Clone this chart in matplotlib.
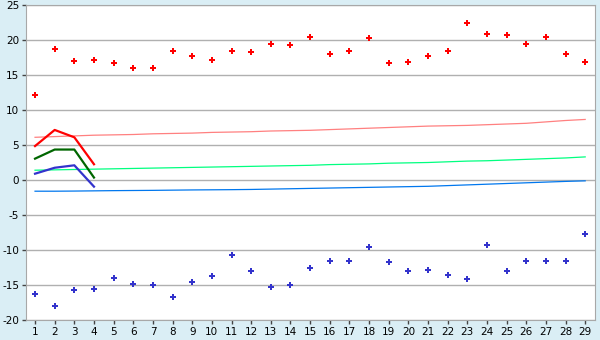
import matplotlib
matplotlib.use("Agg")
import matplotlib.pyplot as plt

plt.rcParams['axes.unicode_minus'] = False

days = list(range(1, 30))

# daily max / min (points)
tmax = [12.2, 18.7, 16.95, 17.1, 16.7, 15.95, 15.95, 18.4, 17.65, 17.1,
        18.5, 18.25, 19.4, 19.25, 20.4, 17.95, 18.4, 20.25, 16.7, 16.8,
        17.65, 18.5, 22.4, 20.8, 20.65, 19.4, 20.5, 17.95, 16.8]
tmin = [-16.3, -18.05, -15.75, -15.6, -14.05, -14.9, -15.05, -16.75, -14.6, -13.75,
        -10.75, -13.05, -15.3, -15.05, -12.6, -11.6, -11.6, -9.6, -11.75, -13.05,
        -12.9, -13.5, -14.2, -9.35, -13.05, -11.6, -11.6, -11.5, -7.75]

# first days: max / mean / min curves
days_line = [1, 2, 3, 4]
line_max = [4.85, 7.15, 6.1, 2.25]
line_avg = [3.05, 4.35, 4.35, 0.35]
line_min = [0.9, 1.75, 2.1, -0.95]

# normals
norm_max = [6.1, 6.2, 6.3, 6.4, 6.45, 6.5, 6.6, 6.65, 6.7, 6.8, 6.85, 6.9, 7.0, 7.05, 7.1,
            7.2, 7.3, 7.4, 7.5, 7.6, 7.7, 7.75, 7.8, 7.9, 8.0, 8.1, 8.3, 8.5, 8.65]
norm_avg = [1.4, 1.45, 1.5, 1.55, 1.6, 1.65, 1.7, 1.75, 1.8, 1.85, 1.9, 1.95, 2.0, 2.05, 2.1,
            2.2, 2.25, 2.3, 2.4, 2.45, 2.5, 2.6, 2.7, 2.75, 2.85, 2.95, 3.05, 3.15, 3.3]
norm_min = [-1.6, -1.6, -1.58, -1.55, -1.52, -1.5, -1.48, -1.45, -1.42, -1.4, -1.38, -1.35,
            -1.3, -1.25, -1.2, -1.15, -1.1, -1.05, -1.0, -0.95, -0.9, -0.8, -0.7, -0.6,
            -0.5, -0.4, -0.3, -0.2, -0.12]

bg = '#daeef5'
fig = plt.figure(figsize=(6, 3.4), dpi=100, facecolor=bg)
ax = fig.add_axes([26/600, 20/340, 569/600, 315/340])
ax.set_facecolor('white')

ax.plot(days, norm_max, color='#ff8080', lw=0.9)
ax.plot(days, norm_avg, color='#00ff80', lw=0.9)
ax.plot(days, norm_min, color='#0077ee', lw=0.9)

ax.plot(days_line, line_max, color='#ff0000', lw=1.6)
ax.plot(days_line, line_avg, color='#006600', lw=1.6)
ax.plot(days_line, line_min, color='#3333cc', lw=1.6)

ax.plot(days, tmax, ls='none', marker='P', ms=5, color='#ff0000', mew=0)
ax.plot(days, tmin, ls='none', marker='P', ms=5, color='#3333cc', mew=0)

ax.set_xlim(0.54, 29.5)
ax.set_ylim(-20, 25)
ax.set_xticks(days)
ax.set_yticks(range(-20, 26, 5))
ax.yaxis.grid(True, color='#b0b0b0', lw=1)
ax.set_axisbelow(True)
for s in ax.spines.values():
    s.set_color('#a8a8a8')
ax.tick_params(colors='#444444', labelcolor='black', labelsize=7.5, length=3, width=1, pad=2)

fig.savefig('out.png', dpi=100, facecolor=bg)
